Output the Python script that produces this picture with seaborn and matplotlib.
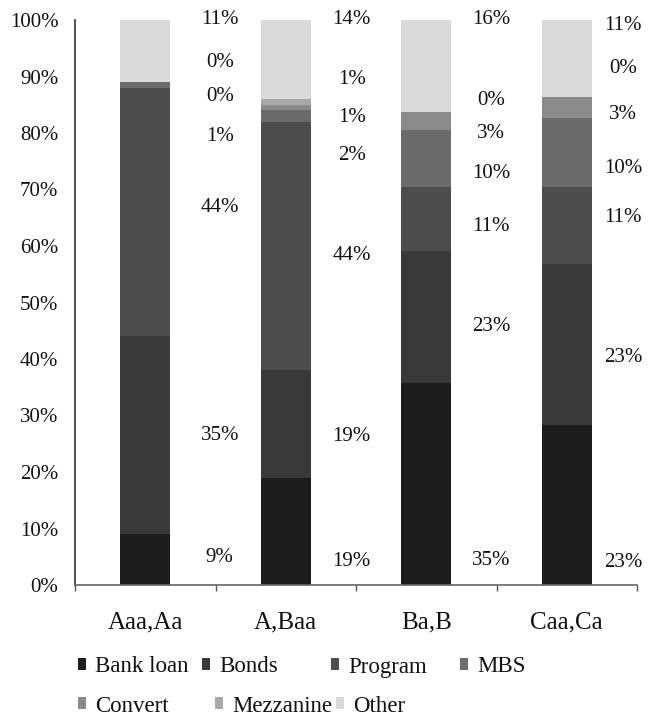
import matplotlib
matplotlib.use("Agg")
import matplotlib.pyplot as plt
import matplotlib.ticker as mticker
from matplotlib.patches import Patch
import pandas as pd
import seaborn as sns

# Funding source mix by rating bucket (percent of total)
ratings = ["Aaa,Aa", "A,Baa", "Ba,B", "Caa,Ca"]
sources = ["Bank loan", "Bonds", "Program", "MBS", "Convert", "Mezzanine", "Other"]
bank_loan = [9, 19, 35, 23]
bonds = [35, 19, 23, 23]
program = [44, 44, 11, 11]
mbs = [1, 2, 10, 10]
convert = [0, 1, 3, 3]
mezzanine = [0, 1, 0, 0]
other = [11, 14, 16, 11]
y_ticks = [0, 10, 20, 30, 40, 50, 60, 70, 80, 90, 100]

series = [bank_loan, bonds, program, mbs, convert, mezzanine, other]

# Grey shades, darkest at the bottom of each stack
palette = {
    "Bank loan": "#1c1c1c",
    "Bonds": "#393939",
    "Program": "#4d4d4d",
    "MBS": "#6b6b6b",
    "Convert": "#8a8a8a",
    "Mezzanine": "#a9a9a9",
    "Other": "#dadada",
}

# Hand-placed label heights (percent) beside each bar, bottom to top
label_y = [
    [4.8, 26.5, 66.9, 79.3, 86.4, 92.4, 100.0],
    [4.1, 26.2, 58.4, 76.1, 82.8, 89.4, 100.0],
    [4.4, 45.7, 63.4, 72.9, 80.0, 85.8, 100.0],
    [3.9, 40.2, 65.1, 73.8, 83.2, 91.5, 99.0],
]
label_dx = [0.53, 0.47, 0.46, 0.40]

rows = []
for name, vals in zip(sources, series):
    for r, v in zip(ratings, vals):
        rows.append({"rating": r, "source": name, "share": v})
df = pd.DataFrame(rows)
df["rating"] = pd.Categorical(df["rating"], categories=ratings, ordered=True)

sns.set_style("white")
plt.rcParams["font.family"] = ["Liberation Serif", "DejaVu Serif"]
plt.rcParams["font.size"] = 15

fig = plt.figure(figsize=(6.49, 7.28), dpi=100)
ax = fig.add_axes([75 / 649, 1 - 585 / 728, (637 - 75) / 649, (585 - 20) / 728])

sns.histplot(
    data=df, x="rating", hue="source", weights="share",
    multiple="fill", discrete=True, shrink=0.355,
    hue_order=sources[::-1], palette=palette,
    alpha=1, linewidth=0, legend=False, ax=ax,
)

for i, r in enumerate(ratings):
    for k, vals in enumerate(series):
        ax.text(i + label_dx[i], label_y[i][k] / 100, f"{vals[i]}%",
                ha="center", va="center", fontsize=15, color="#111111")

ax.set_xlim(-0.5, len(ratings) - 0.5)
ax.set_ylim(0, 1)
ax.set_yticks([t / 100 for t in y_ticks])
ax.yaxis.set_major_formatter(mticker.FuncFormatter(lambda v, p: f"{v * 100:.0f}%"))
ax.set_xticks(range(len(ratings)))
ax.set_xticklabels(ratings)
ax.set_xticks([i + 0.5 for i in range(-1, len(ratings))], minor=True)
ax.tick_params(axis="x", which="major", length=0, pad=19, labelsize=18, labelcolor="#111111")
ax.tick_params(axis="x", which="minor", length=4, width=1, color="#555555", direction="out", bottom=True)
ax.tick_params(axis="y", length=0, pad=12, labelsize=15, labelcolor="#111111")
ax.set_xlabel("")
ax.set_ylabel("")
for s in ["top", "right"]:
    ax.spines[s].set_visible(False)
ax.spines["left"].set_color("#333333")
ax.spines["left"].set_linewidth(1.2)
ax.spines["bottom"].set_color("#666666")
ax.spines["bottom"].set_linewidth(1.2)

# Legend entries laid out in two rows
legend_pos = [(78, 667), (202, 667), (331, 667), (460, 667),
              (78, 706), (215, 706), (336, 706)]
for name, (px, py) in zip(sources, legend_pos):
    fig.legend(
        handles=[Patch(facecolor=palette[name], edgecolor="none", label=name)],
        loc="center left", bbox_to_anchor=(px / 649, 1 - py / 728),
        frameon=False, fontsize=16.5, borderpad=0, borderaxespad=0,
        handlelength=0.36, handleheight=0.45, handletextpad=0.4,
        labelcolor="#111111",
    )

fig.savefig("out.png", dpi=100)
